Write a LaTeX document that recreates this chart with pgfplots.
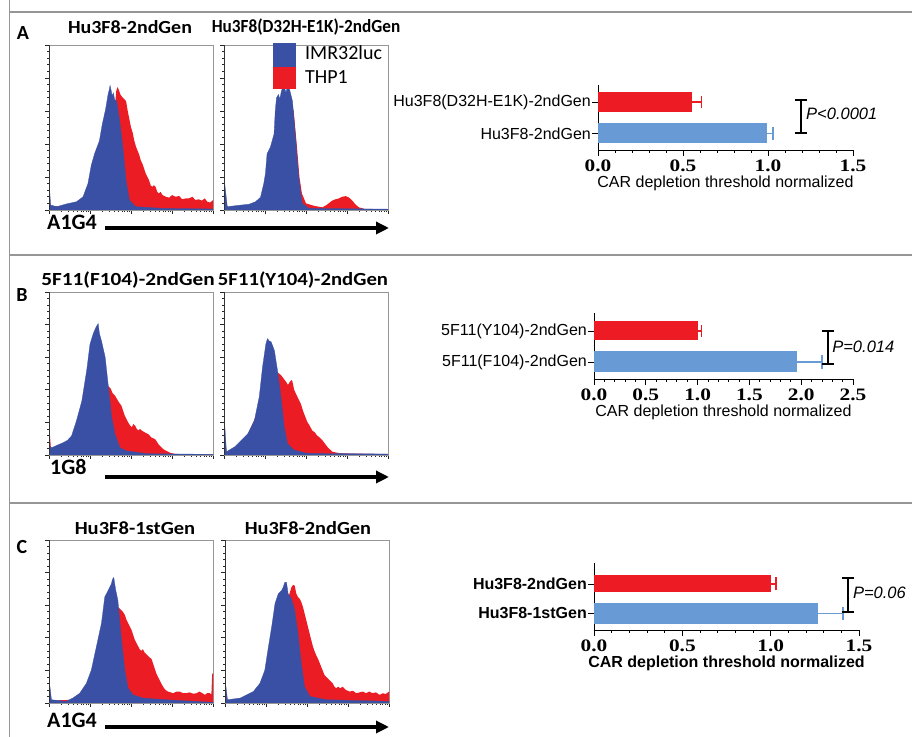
\documentclass[border=0pt]{standalone}
\usepackage{fontspec}
\setmainfont{Carlito}
\newfontfamily\arial{Liberation Sans}
\newfontfamily\tnrw{Liberation Serif}[FakeStretch=1.22]
\usepackage{pgfplots}
\pgfplotsset{compat=1.18}
\usetikzlibrary{arrows.meta}
\definecolor{imrblue}{RGB}{58,80,164}
\definecolor{thpred}{RGB}{236,28,36}
\definecolor{barblue}{RGB}{104,155,214}
\definecolor{barred}{RGB}{237,28,36}
\definecolor{framegray}{RGB}{150,150,150}
\newcommand{\ttl}[2]{\scalebox{#1}[1]{\bfseries\fontsize{18.5bp}{20bp}\selectfont #2}}
\pgfplotsset{
  hist/.style={scale only axis, width=164bp, height=165bp,
    xmin=0, xmax=4, ymin=0, ymax=100,
    axis line style={draw=framegray, line width=0.8bp},
    xtick={0,1,2,3,4},
    minor xtick={0.301,0.477,0.602,0.699,0.778,0.845,0.903,0.954,1.301,1.477,1.602,1.699,1.778,1.845,1.903,1.954,2.301,2.477,2.602,2.699,2.778,2.845,2.903,2.954,3.301,3.477,3.602,3.699,3.778,3.845,3.903,3.954},
    ytick={0,20,40,60,80,100}, minor y tick num=4,
    xticklabels={}, yticklabels={},
    tick pos=left, tick align=outside,
    major tick length=4bp, minor tick length=2bp,
    every tick/.style={black!85, line width=0.6bp},
    extra description/.code={\draw[black!80, line width=0.8bp] (rel axis cs:0,0) -- (rel axis cs:0,1);}
  },
  bars/.style={scale only axis, axis lines*=left,
    axis line style={black, line width=0.9bp},
    xmin=0, ytick={0,1}, tick align=outside,
    major tick length=6bp, minor tick length=3bp, minor x tick num=4,
    every tick/.style={black, line width=0.8bp},
    clip=false,
    xticklabel style={font=\tnrw\bfseries\fontsize{17.5bp}{19bp}\selectfont, inner sep=1bp, yshift=-3bp},
    yticklabel style={font=\arial\fontsize{16bp}{18bp}\selectfont, inner sep=1bp},
    xlabel style={font=\arial\fontsize{16bp}{18bp}\selectfont, inner sep=0bp,
      at={(axis description cs:0.5,0)}, anchor=center, yshift=-33bp},
    xlabel={CAR depletion threshold normalized},
    /pgf/number format/.cd, fixed, fixed zerofill, precision=1, assume math mode=true
  },
  redfill/.style={fill=thpred, draw=none},
  bluefill/.style={fill=imrblue, draw=imrblue, line width=0.3bp},
}
\begin{document}
\begin{tikzpicture}[x=1bp,y=1bp]
\path[use as bounding box] (0,0) rectangle (912,737);
% frames
\draw[framegray, line width=1.6bp] (9.5,737) -- (9.5,725) -- (912,725);
\draw[framegray, line width=1.6bp] (9.5,482) -- (912,482);
\draw[framegray, line width=1.6bp] (9.5,234) -- (912,234);
\draw[framegray, line width=1.6bp] (9.5,725) -- (9.5,0);

% ===== Panel A histograms =====
\begin{axis}[hist, at={(49bp,527bp)}, anchor=south west]
\addplot[redfill] coordinates {(0,0)(0,12)(0.04,2)(0.5,2.5)(0.9,5)(1.1,12)(1.3,30)(1.45,50)(1.55,60)(1.62,66)(1.64,72)(1.67,74.5)(1.70,73)(1.74,70)(1.80,68)(1.84,67)(1.88,66)(1.92,60)(1.96,55)(2.00,50)(2.04,47)(2.08,42)(2.12,38.5)(2.16,36)(2.20,33.5)(2.24,30)(2.28,28)(2.32,25)(2.36,22)(2.40,20)(2.44,18)(2.48,15)(2.52,14)(2.56,15)(2.60,14)(2.64,11)(2.68,10)(2.72,11)(2.77,9)(2.85,8)(2.93,7.5)(3.00,9)(3.09,8)(3.17,8.5)(3.25,6.5)(3.33,7)(3.41,7)(3.5,8)(3.57,6)(3.65,6.5)(3.73,5.7)(3.8,7)(3.86,5)(3.93,4.5)(4,6)} \closedcycle;
\addplot[bluefill] coordinates {(0,0)(0,18)(0.04,3)(0.19,2)(0.43,3.7)(0.67,5)(0.83,8)(0.95,16)(1.03,27)(1.11,34)(1.17,38)(1.23,42)(1.30,52)(1.38,61)(1.44,70)(1.47,73)(1.49,75.5)(1.52,72)(1.54,69)(1.57,71)(1.60,67)(1.65,66)(1.72,55)(1.80,38.5)(1.88,18)(1.96,6)(2.12,2)(2.77,1)(4,0.6)} \closedcycle;
\end{axis}
\begin{axis}[hist, at={(224bp,527bp)}, anchor=south west]
\addplot[redfill] coordinates {(0,0)(0,15)(0.08,1.5)(0.6,3)(0.9,6)(1.1,25)(1.3,55)(1.6,65)(1.7,60)(1.78,38)(1.84,20)(1.9,10)(2.0,4)(2.2,2.5)(2.4,1.6)(2.5,3)(2.64,5.7)(2.72,6.5)(2.8,7)(2.88,8)(2.97,8.4)(3.05,7.5)(3.13,5.7)(3.2,3.5)(3.29,1.6)(3.45,0.5)(4,0.3)} \closedcycle;
\addplot[bluefill] coordinates {(0,0)(0,20)(0.08,2)(0.35,2.8)(0.61,3.5)(0.77,5)(0.89,7.7)(0.97,16)(1.01,22)(1.05,34)(1.13,38)(1.22,46)(1.25,60)(1.28,68)(1.33,70)(1.36,67)(1.40,72)(1.45,76)(1.48,74)(1.51,71)(1.55,75)(1.60,73)(1.67,66)(1.75,42.5)(1.80,26)(1.85,14)(1.91,4)(2.07,1)(4,0.5)} \closedcycle;
\end{axis}

% ===== Panel B histograms =====
\begin{axis}[hist, height=163bp, at={(49bp,282bp)}, anchor=south west]
\addplot[redfill] coordinates {(0,0)(0,20)(0.05,3)(0.5,8)(0.8,25)(1.0,50)(1.2,60)(1.38,44)(1.42,42.6)(1.5,41)(1.55,38)(1.61,36.4)(1.69,33)(1.77,30)(1.81,27)(1.85,24)(1.93,20)(1.98,18)(2.02,17)(2.06,19)(2.1,18)(2.14,16)(2.18,15)(2.22,16)(2.26,15)(2.34,13.8)(2.42,12.8)(2.5,10.7)(2.59,9.7)(2.67,6.6)(2.79,3.5)(2.95,1.4)(3.11,0.4)(4,0.3)} \closedcycle;
\addplot[bluefill] coordinates {(0,0)(0,30)(0.02,5)(0.07,4.5)(0.2,6)(0.35,7.6)(0.45,9)(0.55,11.7)(0.67,21)(0.8,33)(0.92,52)(1.0,68)(1.08,74.5)(1.15,78.6)(1.2,80.6)(1.23,74.5)(1.28,70)(1.37,60)(1.45,41.5)(1.53,23)(1.61,12.8)(1.73,4.5)(1.89,2.5)(2.05,2)(2.38,0.8)(4,0.4)} \closedcycle;
\end{axis}
\begin{axis}[hist, height=163bp, at={(224bp,282bp)}, anchor=south west]
\addplot[redfill] coordinates {(0,0)(0,18)(0.06,1.5)(0.5,8)(0.8,25)(1.0,50)(1.2,55)(1.29,51)(1.34,50)(1.39,49)(1.45,47)(1.51,45)(1.56,43)(1.61,45)(1.65,46)(1.67,45)(1.71,40)(1.79,35.7)(1.87,31.6)(1.95,25.5)(2.03,20.4)(2.09,18)(2.15,15)(2.21,14)(2.27,12)(2.34,10.5)(2.4,9)(2.46,7)(2.52,5)(2.58,3.5)(2.64,2)(2.84,1)(4,0.5)} \closedcycle;
\addplot[bluefill] coordinates {(0,0)(0,25.5)(0.06,2)(0.26,5)(0.42,9)(0.58,13)(0.74,21)(0.86,35.7)(0.94,54)(1.02,68)(1.06,71.4)(1.1,70)(1.15,69.4)(1.23,64)(1.31,51)(1.39,35.7)(1.47,17)(1.55,7)(1.71,3)(2.03,1)(4,0.6)} \closedcycle;
\end{axis}

% ===== Panel C histograms =====
\begin{axis}[hist, height=163bp, at={(49bp,34bp)}, anchor=south west]
\addplot[redfill] coordinates {(0,0)(0,10)(0.06,1.5)(0.6,2)(0.9,8)(1.2,30)(1.5,55)(1.65,58)(1.68,59)(1.72,58)(1.76,57)(1.80,56)(1.85,54)(1.89,51)(1.93,49)(1.97,47)(2.01,45)(2.05,42)(2.09,39)(2.13,37)(2.17,35)(2.21,33)(2.25,32)(2.29,33)(2.33,31)(2.37,30)(2.41,29)(2.45,28)(2.5,27)(2.54,24)(2.58,21)(2.62,18)(2.66,16)(2.72,13)(2.78,10)(2.84,8)(2.9,7)(2.97,6.5)(3.03,6)(3.11,7)(3.19,7)(3.27,6)(3.35,6)(3.43,6.5)(3.52,5.7)(3.6,6)(3.67,7)(3.74,6)(3.8,5)(3.86,6)(3.92,6)(3.96,5)(3.98,18)(4,18)} \closedcycle;
\addplot[bluefill] coordinates {(0,0)(0,15)(0.06,2)(0.42,1)(0.58,3)(0.75,6)(0.91,12)(1.03,20)(1.16,35)(1.28,49)(1.36,65)(1.44,69)(1.52,73)(1.55,76)(1.58,77)(1.61,72)(1.63,69)(1.68,63)(1.76,41)(1.85,20)(1.93,9)(2.05,5)(2.29,3)(2.86,2)(4,0.4)} \closedcycle;
\end{axis}
\begin{axis}[hist, height=163bp, at={(225bp,34bp)}, anchor=south west]
\addplot[redfill] coordinates {(0,0)(0,10)(0.06,1.5)(0.6,4)(0.9,10)(1.2,40)(1.45,60)(1.56,66)(1.62,71)(1.66,72.5)(1.70,72)(1.74,67)(1.78,65)(1.82,64)(1.86,62)(1.9,59)(1.94,55)(1.98,51)(2.02,47)(2.06,43)(2.1,39)(2.14,35)(2.18,32)(2.23,29)(2.27,27)(2.31,24.5)(2.35,22)(2.39,19.4)(2.43,17)(2.47,16)(2.51,15)(2.55,14)(2.59,13)(2.63,12)(2.67,10)(2.71,9)(2.76,10)(2.81,9)(2.87,10)(2.95,8)(3.04,7)(3.12,7.5)(3.2,6)(3.28,6.5)(3.36,7)(3.44,6)(3.52,7)(3.6,6)(3.68,6.5)(3.77,5)(3.85,6)(3.92,5.5)(4,7)} \closedcycle;
\addplot[bluefill] coordinates {(0,0)(0,15)(0.06,2)(0.37,3)(0.69,7)(0.85,12)(0.97,20)(1.05,33)(1.14,47)(1.22,61)(1.3,67)(1.38,69)(1.42,71)(1.46,74)(1.5,74)(1.54,67)(1.62,64)(1.7,57)(1.78,43)(1.86,24.5)(1.94,10)(2.07,4)(2.47,2)(4,1)} \closedcycle;
\end{axis}

% ===== Bar charts =====
\begin{axis}[bars, at={(598bp,587bp)}, anchor=south west, width=255bp, height=65bp,
  xmax=1.5, xtick={0,0.5,1,1.5}, ymin=-0.524, ymax=1.54,
  yticklabels={Hu3F8-2ndGen, Hu3F8(D32H-E1K)-2ndGen}]
\addplot[xbar, bar shift=0pt, bar width=20bp, fill=barblue, draw=none] coordinates {(0.995,0)};
\addplot[xbar, bar shift=0pt, bar width=20bp, fill=barred, draw=none] coordinates {(0.553,1)};
\addplot[barblue, line width=1.3bp] coordinates {(0.995,0) (1.03,0)};
\addplot[barblue, line width=1.3bp] coordinates {(1.03,-0.2) (1.03,0.2)};
\addplot[barred, line width=1.3bp] coordinates {(0.553,1) (0.61,1)};
\addplot[barred, line width=1.3bp] coordinates {(0.61,0.8) (0.61,1.2)};
\draw[line width=2.2bp] (axis cs:1.194,0.016) -- (axis cs:1.194,1.063);
\draw[line width=2.2bp] ([xshift=-6bp]axis cs:1.194,0.016) -- ([xshift=6bp]axis cs:1.194,0.016);
\draw[line width=2.2bp] ([xshift=-6bp]axis cs:1.194,1.063) -- ([xshift=6bp]axis cs:1.194,1.063);
\node[anchor=west, inner sep=0pt, font=\arial\itshape\fontsize{16.5bp}{18bp}\selectfont] at ([xshift=5bp]axis cs:1.194,0.62) {P<0.0001};
\end{axis}

\begin{axis}[bars, at={(594bp,358bp)}, anchor=south west, width=259bp, height=66bp,
  xmax=2.5, xtick={0,0.5,1,1.5,2,2.5}, ymin=-0.548, ymax=1.58,
  yticklabels={5F11(F104)-2ndGen, 5F11(Y104)-2ndGen}]
\addplot[xbar, bar shift=0pt, bar width=21bp, fill=barblue, draw=none] coordinates {(1.96,0)};
\addplot[xbar, bar shift=0pt, bar width=19bp, fill=barred, draw=none] coordinates {(1.0,1)};
\addplot[barblue, line width=1.3bp] coordinates {(1.96,0) (2.2,0)};
\addplot[barblue, line width=1.3bp] coordinates {(2.2,-0.22) (2.2,0.22)};
\addplot[barred, line width=1.3bp] coordinates {(1.0,1) (1.04,1)};
\addplot[barred, line width=1.3bp] coordinates {(1.04,0.8) (1.04,1.2)};
\draw[line width=2.2bp] (axis cs:2.26,-0.06) -- (axis cs:2.26,1.0);
\draw[line width=2.2bp] ([xshift=-6bp]axis cs:2.26,-0.06) -- ([xshift=6bp]axis cs:2.26,-0.06);
\draw[line width=2.2bp] ([xshift=-6bp]axis cs:2.26,1.0) -- ([xshift=6bp]axis cs:2.26,1.0);
\node[anchor=west, inner sep=0pt, font=\arial\itshape\fontsize{16.5bp}{18bp}\selectfont] at ([xshift=4bp]axis cs:2.26,0.5) {P=0.014};
\end{axis}

\begin{axis}[bars, at={(594bp,107bp)}, anchor=south west, width=265bp, height=67bp,
  xmax=1.5, xtick={0,0.5,1,1.5}, ymin=-0.56, ymax=1.71,
  yticklabel style={font=\arial\bfseries\fontsize{16bp}{18bp}\selectfont},
  xlabel style={font=\arial\bfseries\fontsize{16bp}{18bp}\selectfont},
  yticklabels={Hu3F8-1stGen, Hu3F8-2ndGen}]
\addplot[xbar, bar shift=0pt, bar width=21bp, fill=barblue, draw=none] coordinates {(1.27,0)};
\addplot[xbar, bar shift=0pt, bar width=17bp, fill=barred, draw=none] coordinates {(1.0,1)};
\addplot[barblue, line width=1.3bp] coordinates {(1.27,0) (1.41,0)};
\addplot[barblue, line width=1.3bp] coordinates {(1.41,-0.22) (1.41,0.22)};
\addplot[barred, line width=1.3bp] coordinates {(1.0,1) (1.03,1)};
\addplot[barred, line width=1.3bp] coordinates {(1.03,0.78) (1.03,1.22)};
\draw[line width=2.2bp] (axis cs:1.437,0.05) -- (axis cs:1.437,1.2);
\draw[line width=2.2bp] ([xshift=-6bp]axis cs:1.437,0.05) -- ([xshift=6bp]axis cs:1.437,0.05);
\draw[line width=2.2bp] ([xshift=-6bp]axis cs:1.437,1.2) -- ([xshift=6bp]axis cs:1.437,1.2);
\node[anchor=west, inner sep=0pt, font=\arial\itshape\fontsize{16.5bp}{18bp}\selectfont] at ([xshift=5bp]axis cs:1.437,0.7) {P=0.06};
\end{axis}

% ===== Legend =====
\fill[imrblue] (273,670) rectangle (296,694);
\fill[thpred] (273,648) rectangle (296,670);
\node[anchor=west, inner sep=0pt, font=\fontsize{20bp}{22bp}\selectfont] at (305,684) {IMR32luc};
\node[anchor=west, inner sep=0pt, font=\fontsize{20bp}{22bp}\selectfont] at (305,660) {THP1};

% ===== Titles, labels =====
\begin{scope}[every node/.style={inner sep=0pt}]
\node at (130,710) {\ttl{1.08}{Hu3F8-2ndGen}};
\node at (306,710) {\ttl{0.93}{Hu3F8(D32H-E1K)-2ndGen}};
\node at (128,457) {\ttl{1.15}{5F11(F104)-2ndGen}};
\node at (303,457) {\ttl{1.12}{5F11(Y104)-2ndGen}};
\node at (135,209) {\ttl{1.11}{Hu3F8-1stGen}};
\node at (308,209) {\ttl{1.10}{Hu3F8-2ndGen}};
\end{scope}
\begin{scope}[every node/.style={inner sep=0pt, font=\bfseries\fontsize{20bp}{22bp}\selectfont}]
\node at (23,704) {A};
\node at (22,442) {B};
\node at (22,190) {C};
\end{scope}
\begin{scope}[every node/.style={inner sep=0pt, anchor=west, font=\bfseries\fontsize{22bp}{24bp}\selectfont}]
\node at (47,515) {A1G4};
\node at (50,270) {1G8};
\node at (47,17) {A1G4};
\end{scope}
\draw[line width=3.2bp, -{Triangle[length=13bp,width=12bp]}] (105,509) -- (389,509);
\draw[line width=3.2bp, -{Triangle[length=13bp,width=12bp]}] (105,260) -- (389,260);
\draw[line width=3.2bp, -{Triangle[length=13bp,width=12bp]}] (105,10) -- (389,10);
\end{tikzpicture}
\end{document}
